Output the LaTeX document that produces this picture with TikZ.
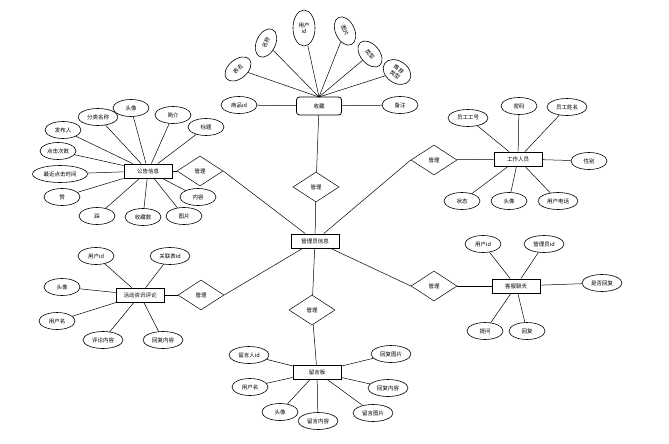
\documentclass[tikz,border=0pt]{standalone}
\usepackage{fontspec}
\newfontfamily\cjk{Noto Sans CJK SC}
\usetikzlibrary{shapes.geometric}
\begin{document}
\begin{tikzpicture}[x=1pt,y=-1pt,
  every node/.style={font=\cjk\fontsize{5.5}{6.5}\selectfont, inner sep=0pt},
  ent/.style={draw, line width=0.8pt, minimum width=48pt, minimum height=14pt, fill=white},
  rent/.style={ent, rounded corners=3pt, minimum width=45pt, minimum height=18pt},
  attr/.style={draw, ellipse, line width=0.6pt, minimum width=36pt, minimum height=17pt, fill=white},
  rel/.style={draw, diamond, aspect=1.55, line width=0.5pt, minimum width=46pt, minimum height=30pt, fill=white},
  ln/.style={draw, line width=0.5pt}]
\useasboundingbox (0,0) rectangle (669,444);
% center
\node[ent] (C) at (315,241) {管理员信息};
% diamonds
\node[rel] (d0) at (316,187) {管理};
\node[rel] (d1) at (200,171) {管理};
\node[rel] (d2) at (434,160) {管理};
\node[rel] (d3) at (434,286) {管理};
\node[rel] (d4) at (201,295) {管理};
\node[rel] (d5) at (312,310) {管理};
% entities
\node[rent] (E0) at (319,106) {收藏};
\node[ent] (E1) at (148,171) {公告信息};
\node[ent] (E2) at (518,159) {工作人员};
\node[ent] (E3) at (516,286) {客服聊天};
\node[ent] (E4) at (140,295) {活动资讯评论};
\node[ent] (E5) at (317,372) {留言板};
% center connections
\draw[ln] (C) -- (d0); \draw[ln] (d0) -- (E0);
\draw[ln] (C) -- (d1.east); \draw[ln] (d1) -- (E1);
\draw[ln] (C) -- (d2.west); \draw[ln] (d2) -- (E2);
\draw[ln] (C) -- (d3.west); \draw[ln] (d3) -- (E3);
\draw[ln] (C) -- (d4.east); \draw[ln] (d4) -- (E4);
\draw[ln] (C) -- (d5); \draw[ln] (d5) -- (E5);
% 收藏 attributes
\coordinate (E0t) at (319,97);
\node[attr, rotate=40, minimum width=30pt, minimum height=19pt] (a01) at (238,69) {表名};
\node[attr, rotate=65, minimum width=30pt, minimum height=19pt] (a02) at (266,43) {名称};
\node[attr, minimum width=22pt, minimum height=36pt, align=center] (a03) at (304,28) {用户\\id};
\node[attr, rotate=-65, minimum width=30pt, minimum height=19pt] (a04) at (345,31) {图片};
\node[attr, rotate=-50, minimum width=30pt, minimum height=19pt] (a05) at (370,54) {类型};
\node[attr, rotate=-35, minimum width=30pt, minimum height=22pt, align=center] (a06) at (397,72) {推荐\\类型};
\node[attr] (a07) at (239,105) {商品id};
\node[attr] (a08) at (400,105) {备注};
\foreach \a in {a01,a02,a03,a04,a05,a06} \draw[ln] (E0t) -- (\a);
\draw[ln] (E0) -- (a07); \draw[ln] (E0) -- (a08);
% 公告信息 attributes
\node[attr] (a11) at (63,130) {发布人};
\node[attr] (a12) at (58,151) {点击次数};
\node[attr, minimum width=55pt] (a13) at (60,174) {最近点击时间};
\node[attr] (a14) at (62,197) {赞};
\node[attr] (a15) at (97,216) {踩};
\node[attr] (a16) at (143,217) {收藏数};
\node[attr] (a17) at (184,216) {图片};
\node[attr] (a18) at (198,197) {内容};
\node[attr] (a19) at (206,127) {标题};
\node[attr] (a1a) at (173,115) {简介};
\node[attr] (a1b) at (131,108) {头像};
\node[attr, minimum width=40pt] (a1c) at (98,117) {分类名称};
\foreach \a in {a11,a12,a13,a14,a15,a16,a17,a18,a19,a1a,a1b,a1c} \draw[ln] (E1) -- (\a);
% 工作人员 attributes
\node[attr, minimum width=40pt] (a21) at (468,118) {员工工号};
\node[attr] (a22) at (519,106) {密码};
\node[attr, minimum width=40pt] (a23) at (567,107) {员工姓名};
\node[attr] (a24) at (589,161) {性别};
\node[attr] (a25) at (462,201) {状态};
\node[attr] (a26) at (509,201) {头像};
\node[attr, minimum width=40pt] (a27) at (558,201) {用户电话};
\foreach \a in {a21,a22,a23,a24,a25,a26,a27} \draw[ln] (E2) -- (\a);
% 客服聊天 attributes
\node[attr] (a31) at (483,244) {用户id};
\node[attr, minimum width=40pt] (a32) at (544,244) {管理员id};
\node[attr, minimum width=40pt] (a33) at (602,283) {是否回复};
\node[attr] (a34) at (485,331) {提问};
\node[attr] (a35) at (527,331) {回复};
\foreach \a in {a31,a32,a33,a34,a35} \draw[ln] (E3) -- (\a);
% 活动资讯评论 attributes
\node[attr] (a41) at (96,256) {用户id};
\node[attr, minimum width=40pt] (a42) at (170,256) {关联表id};
\node[attr] (a43) at (62,287) {头像};
\node[attr] (a44) at (57,321) {用户名};
\node[attr, minimum width=40pt] (a45) at (103,340) {评论内容};
\node[attr, minimum width=40pt] (a46) at (163,340) {回复内容};
\foreach \a in {a41,a42,a43,a44,a45,a46} \draw[ln] (E4) -- (\a);
% 留言板 attributes
\node[attr, minimum width=40pt] (a51) at (249,355) {留言人id};
\node[attr] (a52) at (250,387) {用户名};
\node[attr] (a53) at (280,412) {头像};
\node[attr, minimum width=40pt] (a54) at (318,421) {留言内容};
\node[attr, minimum width=40pt] (a55) at (373,413) {留言图片};
\node[attr, minimum width=40pt] (a56) at (391,354) {回复图片};
\node[attr, minimum width=40pt] (a57) at (388,388) {回复内容};
\foreach \a in {a51,a52,a53,a54,a55,a56,a57} \draw[ln] (E5) -- (\a);
\end{tikzpicture}
\end{document}
